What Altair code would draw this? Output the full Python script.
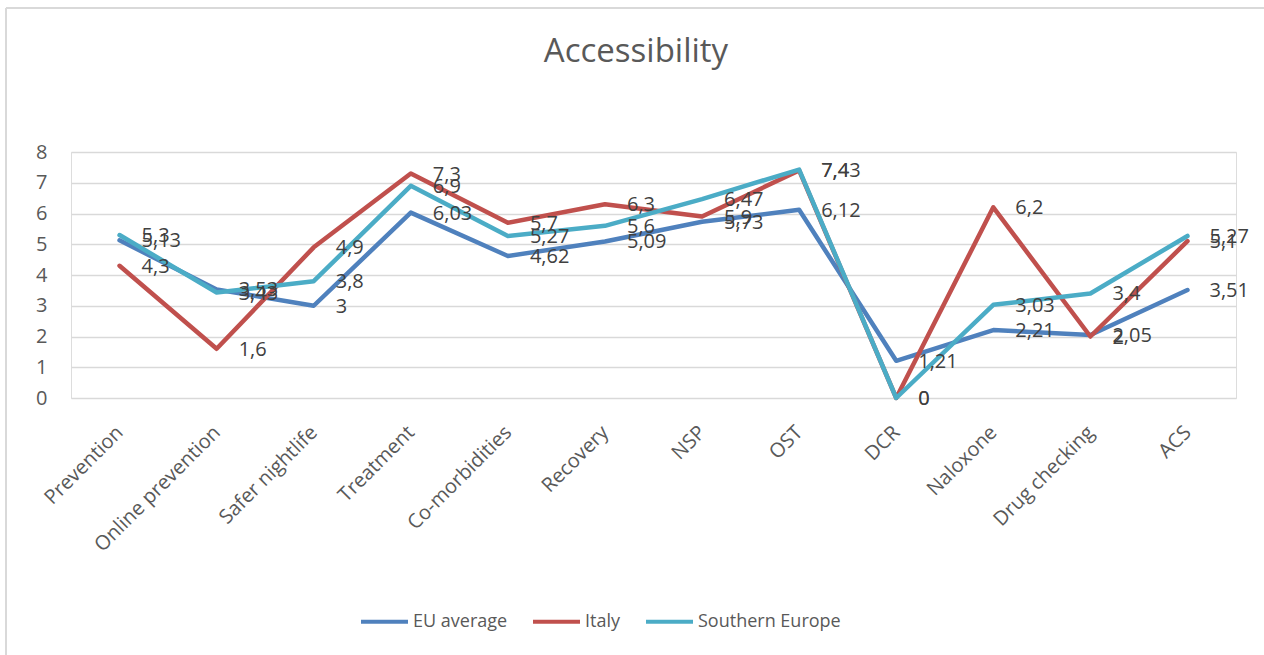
import altair as alt
import pandas as pd

categories = ["Prevention", "Online prevention", "Safer nightlife", "Treatment",
              "Co-morbidities", "Recovery", "NSP", "OST", "DCR", "Naloxone",
              "Drug checking", "ACS"]
series_names = ["EU average", "Italy", "Southern Europe"]
eu_average = [5.13, 3.53, 3.0, 6.03, 4.62, 5.09, 5.73, 6.12, 1.21, 2.21, 2.05, 3.51]
italy = [4.3, 1.6, 4.9, 7.3, 5.7, 6.3, 5.9, 7.4, 0.0, 6.2, 2.0, 5.1]
southern_europe = [5.3, 3.43, 3.8, 6.9, 5.27, 5.6, 6.47, 7.43, 0.0, 3.03, 3.4, 5.27]
colors = ["#4F81BD", "#C0504D", "#4BACC6"]
y_ticks = [0, 1, 2, 3, 4, 5, 6, 7, 8]
title_text = "Accessibility"

rows = []
for name, vals in zip(series_names, [eu_average, italy, southern_europe]):
    for c, v in zip(categories, vals):
        rows.append({"category": c, "series": name, "value": v,
                     "label": f"{v:g}".replace(".", ",")})
df = pd.DataFrame(rows)

FONT = "Open Sans"
W, H = 1165, 246
PL, PT = 71, 152

x_enc = alt.X("category:N", sort=categories, title=None,
              axis=alt.Axis(labelAngle=-45, labelAlign="right", labelBaseline="middle",
                            labelPadding=31, labelOffset=0, labelFontSize=20,
                            labelColor="#595959", domain=False, ticks=False,
                            labelFont=FONT, labelOverlap=False))
y_enc = alt.Y("value:Q", title=None,
              scale=alt.Scale(domain=[0, 8], nice=False),
              axis=alt.Axis(values=y_ticks, tickCount=9, grid=True, gridColor="#d9d9d9",
                            gridWidth=1.3, domain=False, ticks=False,
                            labelFontSize=20, labelColor="#595959",
                            labelPadding=24, labelFont=FONT, labelOverlap=False,
                            labelSeparation=0))
color_enc = alt.Color("series:N",
                      scale=alt.Scale(domain=series_names, range=colors),
                      legend=alt.Legend(title=None, orient="none", legendX=288,
                                        legendY=444, direction="horizontal",
                                        symbolType="stroke", symbolSize=2209,
                                        symbolStrokeWidth=4, labelFontSize=18,
                                        labelColor="#595959", labelFont=FONT,
                                        columnPadding=17, labelOffset=3,
                                        padding=0))

base = alt.Chart(df)
lines = base.mark_line(strokeWidth=4.5, strokeJoin="round", strokeCap="round").encode(
    x=x_enc, y=y_enc, color=color_enc)
labels = base.mark_text(align="left", baseline="middle", dx=22, dy=1,
                        fontSize=20, font=FONT, color="#404040").encode(
    x=x_enc, y=y_enc, text="label:N")

one = pd.DataFrame({"d": [0]})
title = alt.Chart(one).mark_text(fontSize=33, font=FONT, color="#595959",
                                 baseline="middle", align="center").encode(
    x=alt.value(565), y=alt.value(-100), text=alt.value(title_text))
border_top = alt.Chart(one).mark_rule(color="#d9d9d9", strokeWidth=2).encode(
    x=alt.value(6 - PL), x2=alt.value(1264 - PL), y=alt.value(8 - PT))
border_left = alt.Chart(one).mark_rule(color="#d9d9d9", strokeWidth=2).encode(
    x=alt.value(6 - PL), y=alt.value(8 - PT), y2=alt.value(655 - PT))

chart = alt.layer(border_top, border_left, title, lines, labels).properties(
    width=W, height=H,
    autosize=alt.AutoSizeParams(type="none"),
    padding={"left": PL, "top": PT, "right": 1264 - PL - W, "bottom": 655 - PT - H},
).configure_view(stroke=None).configure(font=FONT)

chart.save("out.html", embed_options={"renderer": "svg", "actions": False})
